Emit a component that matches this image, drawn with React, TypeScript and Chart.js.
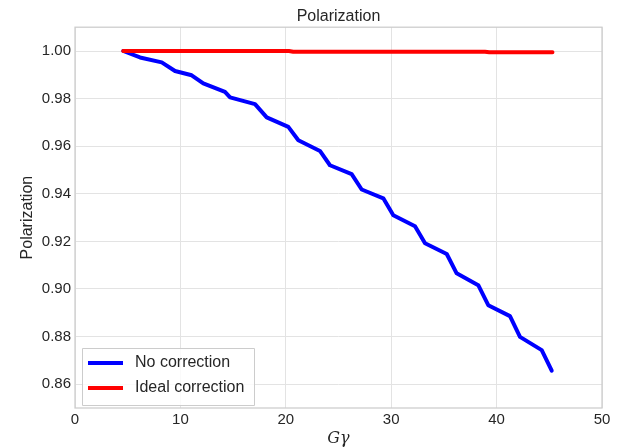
import React, { useEffect, useRef } from "react";
import { Chart, registerables } from "chart.js";

Chart.register(...registerables);

// ---- data ----
const G_NO_CORR = [4.58, 6.17, 8.23, 9.49, 11.07, 12.17, 14.23, 14.71, 17.08, 18.19, 20.24, 21.19, 23.24, 24.19, 26.25, 27.2, 29.25, 30.2, 32.26, 33.21, 35.27, 36.21, 38.26, 39.21, 41.27, 42.22, 44.28, 45.23];
const P_NO_CORR = [1.0, 0.9973, 0.9952, 0.9916, 0.9898, 0.9864, 0.9828, 0.9805, 0.9777, 0.9721, 0.9681, 0.9625, 0.958, 0.952, 0.9483, 0.9418, 0.9381, 0.931, 0.9264, 0.9192, 0.9147, 0.9066, 0.9016, 0.8932, 0.8886, 0.8799, 0.8743, 0.8657];
const G_IDEAL = [4.58, 20.3, 20.7, 38.9, 39.3, 45.3];
const P_IDEAL = [1.0, 1.0, 0.9997, 0.9997, 0.9995, 0.9995];
const X_TICKS = [0, 10, 20, 30, 40, 50];
const Y_TICKS = [0.86, 0.88, 0.9, 0.92, 0.94, 0.96, 0.98, 1.0];
const SERIES_LABELS = ["No correction", "Ideal correction"];
const TITLE = "Polarization";
const X_TITLE = "Gγ";
const Y_TITLE = "Polarization";

const TEXT = "#262626";
const FONT = "'Liberation Sans', Arial, sans-serif";

const framePlugin = {
  id: "frame",
  afterDatasetsDraw(chart: any) {
    const { ctx, chartArea: a } = chart;
    ctx.save();
    ctx.strokeStyle = "#cccccc";
    ctx.lineWidth = 1.25;
    ctx.strokeRect(a.left, a.top, a.right - a.left, a.bottom - a.top);
    ctx.restore();
  },
};

const legendPlugin = {
  id: "innerLegend",
  afterDraw(chart: any) {
    const { ctx, chartArea: a } = chart;
    const x0 = a.left + 7;
    const y0 = a.bottom - 60;
    const w = 172;
    const h = 57;
    ctx.save();
    ctx.fillStyle = "rgba(255,255,255,0.8)";
    ctx.strokeStyle = "#cccccc";
    ctx.lineWidth = 1;
    ctx.beginPath();
    ctx.rect(x0 + 0.5, y0 + 0.5, w, h);
    ctx.fill();
    ctx.stroke();
    ctx.font = `16px ${FONT}`;
    ctx.textBaseline = "middle";
    ctx.textAlign = "left";
    chart.data.datasets.forEach((ds: any, i: number) => {
      const y = y0 + 15 + i * 25;
      ctx.strokeStyle = ds.borderColor;
      ctx.lineWidth = 4;
      ctx.lineCap = "butt";
      ctx.beginPath();
      ctx.moveTo(x0 + 6, y);
      ctx.lineTo(x0 + 41, y);
      ctx.stroke();
      ctx.fillStyle = TEXT;
      ctx.fillText(ds.label, x0 + 53, y);
    });
    ctx.restore();
  },
};

export default function App() {
  const ref = useRef<HTMLCanvasElement | null>(null);

  useEffect(() => {
    if (!ref.current) return;
    const chart = new Chart(ref.current, {
      type: "line",
      data: {
        datasets: [
          {
            label: SERIES_LABELS[0],
            data: G_NO_CORR.map((g, i) => ({ x: g, y: P_NO_CORR[i] })),
            borderColor: "#0000ff",
            backgroundColor: "#0000ff",
            borderWidth: 4,
            pointRadius: 0,
            tension: 0,
            borderJoinStyle: "round",
            borderCapStyle: "round",
            order: 1,
          },
          {
            label: SERIES_LABELS[1],
            data: G_IDEAL.map((g, i) => ({ x: g, y: P_IDEAL[i] })),
            borderColor: "#ff0000",
            backgroundColor: "#ff0000",
            borderWidth: 4,
            pointRadius: 0,
            tension: 0,
            borderJoinStyle: "round",
            borderCapStyle: "round",
            order: 0,
          },
        ],
      },
      options: {
        animation: false,
        responsive: false,
        devicePixelRatio: 1,
        layout: { padding: { left: 0, right: 17, top: 0, bottom: 0 } },
        plugins: {
          legend: { display: false },
          tooltip: { enabled: false },
          title: {
            display: true,
            text: TITLE,
            fullSize: false,
            color: TEXT,
            font: { family: FONT, size: 16, weight: "normal" },
            padding: { top: 7, bottom: 1 },
          },
        },
        scales: {
          x: {
            type: "linear",
            min: 0,
            max: 50,
            afterBuildTicks: (s: any) => {
              s.ticks = X_TICKS.map((v) => ({ value: v }));
            },
            afterFit: (s: any) => {
              s.height = 40;
            },
            ticks: {
              color: TEXT,
              font: { family: FONT, size: 15 },
              padding: 3,
              maxRotation: 0,
              callback: (v: any) => String(v),
            },
            grid: { color: "#e3e3e3", lineWidth: 1, drawTicks: false },
            border: { display: false },
            title: {
              display: true,
              text: X_TITLE,
              color: TEXT,
              font: { family: "'DejaVu Serif', serif", style: "italic", size: 16 },
              padding: { top: 0, bottom: 0 },
            },
          },
          y: {
            type: "linear",
            min: 0.85,
            max: 1.01,
            afterBuildTicks: (s: any) => {
              s.ticks = Y_TICKS.map((v) => ({ value: v }));
            },
            afterFit: (s: any) => {
              s.width = 75;
            },
            ticks: {
              color: TEXT,
              font: { family: FONT, size: 15 },
              padding: 4,
              callback: (v: any) => Number(v).toFixed(2),
            },
            grid: { color: "#e3e3e3", lineWidth: 1, drawTicks: false },
            border: { display: false },
            title: {
              display: true,
              text: Y_TITLE,
              color: TEXT,
              font: { family: FONT, size: 16 },
              padding: { top: 18, bottom: 0 },
            },
          },
        },
      },
      plugins: [framePlugin, legendPlugin],
    } as any);
    return () => chart.destroy();
  }, []);

  return (
    <div style={{ position: "absolute", left: 0, top: 0, width: 619, height: 448, background: "#ffffff" }}>
      <canvas ref={ref} width={619} height={448} />
    </div>
  );
}
